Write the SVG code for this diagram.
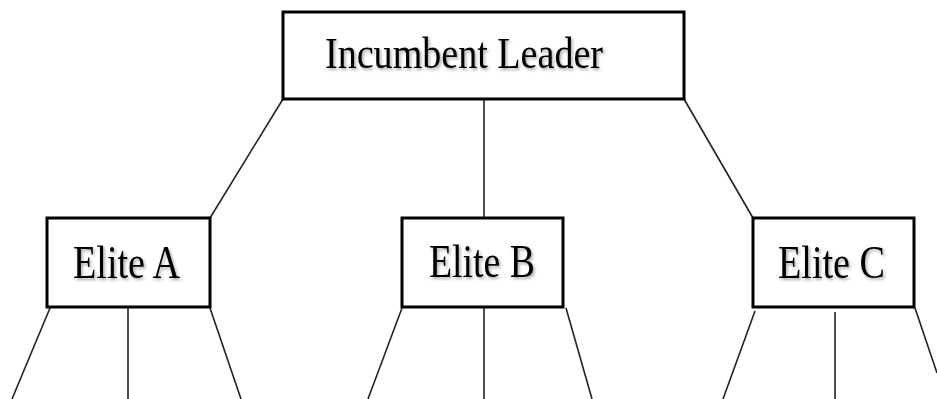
<svg xmlns="http://www.w3.org/2000/svg" width="937" height="399" viewBox="0 0 937 399">
  <style>
    .box { fill: #ffffff; stroke: #000000; stroke-width: 3; }
    .lbl { font-family: "Liberation Serif", "Times New Roman", serif; fill: #000000; filter: url(#shadow); }
    .conn { stroke: #222222; stroke-width: 1.6; fill: none; }
  </style>
  <defs>
    <filter id="shadow" x="-10%" y="-20%" width="120%" height="150%">
      <feDropShadow dx="1.5" dy="2" stdDeviation="1.5" flood-color="#000000" flood-opacity="0.35"/>
    </filter>
  </defs>
  <rect width="937" height="399" fill="#ffffff"/>
  <g id="connectors">
    <line class="conn" x1="283" y1="99" x2="210" y2="218"/>
    <line class="conn" x1="484" y1="99" x2="484" y2="218"/>
    <line class="conn" x1="684" y1="99" x2="753" y2="218"/>
    <line class="conn" x1="50" y1="308" x2="12" y2="399"/>
    <line class="conn" x1="128" y1="308" x2="128" y2="399"/>
    <line class="conn" x1="210" y1="308" x2="241" y2="399"/>
    <line class="conn" x1="402" y1="308" x2="368" y2="399"/>
    <line class="conn" x1="484" y1="308" x2="484" y2="399"/>
    <line class="conn" x1="566" y1="308" x2="592" y2="399"/>
    <line class="conn" x1="755" y1="311" x2="723" y2="399"/>
    <line class="conn" x1="835" y1="312" x2="835" y2="399"/>
    <line class="conn" x1="915" y1="308" x2="937" y2="373"/>
  </g>
  <g id="incumbent-leader">
    <rect class="box" x="283" y="12" width="401" height="87"/>
    <text class="lbl" x="325" y="68" font-size="44" textLength="278" lengthAdjust="spacingAndGlyphs">Incumbent Leader</text>
  </g>
  <g id="elite-a">
    <rect class="box" x="47" y="218" width="163" height="89"/>
    <text class="lbl" x="73" y="278" font-size="47" textLength="107" lengthAdjust="spacingAndGlyphs">Elite A</text>
  </g>
  <g id="elite-b">
    <rect class="box" x="402" y="218" width="161" height="89"/>
    <text class="lbl" x="429" y="277" font-size="47" textLength="106" lengthAdjust="spacingAndGlyphs">Elite B</text>
  </g>
  <g id="elite-c">
    <rect class="box" x="753" y="218" width="161" height="89"/>
    <text class="lbl" x="778" y="278" font-size="47" textLength="107" lengthAdjust="spacingAndGlyphs">Elite C</text>
  </g>
</svg>
